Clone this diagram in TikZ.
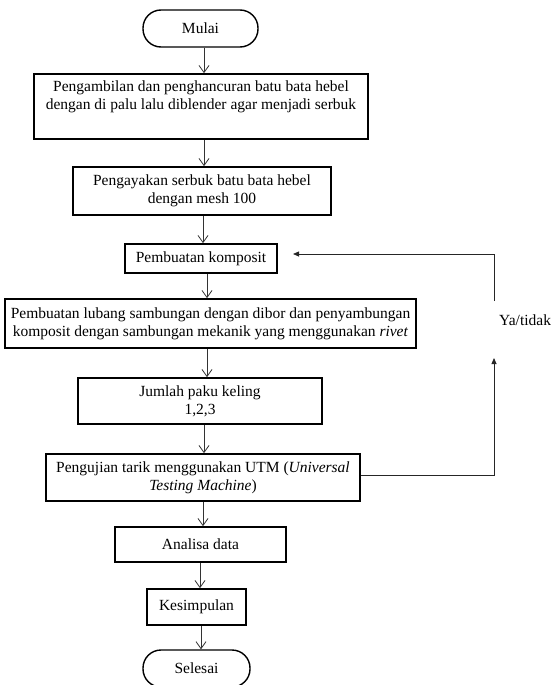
\documentclass[tikz,border=0pt]{standalone}
\usepackage{fontspec}
\setmainfont{Liberation Serif}
\usetikzlibrary{arrows.meta}
\begin{document}
\begin{tikzpicture}[x=1pt,y=-1pt,
  every node/.style={font=\fontsize{15.5}{18}\selectfont, inner sep=0pt, align=center},
  box/.style={draw, line width=1.7pt, rectangle},
  pill/.style={draw, line width=1.4pt, rectangle, rounded corners=18pt},
  arr/.style={draw=black!80, line width=0.8pt, -{Straight Barb[length=7pt,width=10pt]}},
  arrS/.style={draw=black!85, line width=0.8pt, -{Triangle[length=6pt,width=5pt]}},
  lin/.style={draw=black!85, line width=0.8pt}]
\useasboundingbox (0,0) rectangle (553,685);
\node[pill, minimum width=115pt, minimum height=37pt] (mulai) at (200.5,28.5) {Mulai};
\node[box, minimum width=334pt, minimum height=65pt] (b1) at (201,106.5)
  {Pengambilan dan penghancuran batu bata hebel\\dengan di palu lalu diblender agar menjadi serbuk\\[0pt]\strut};
\node[box, minimum width=258pt, minimum height=48pt] (b2) at (202,191)
  {Pengayakan serbuk batu bata hebel\\dengan mesh 100};
\node[box, minimum width=152pt, minimum height=29pt] (b3) at (201,258.5) {Pembuatan komposit};
\node[box, minimum width=411pt, minimum height=49pt] (b4) at (210.5,323.5)
  {Pembuatan lubang sambungan dengan dibor dan penyambungan\\komposit dengan sambungan mekanik yang menggunakan \textit{rivet}};
\node[box, minimum width=244pt, minimum height=46pt] (b5) at (200,401) {Jumlah paku keling\\1,2,3};
\node[box, minimum width=314pt, minimum height=47pt] (b6) at (203,477.5)
  {Pengujian tarik menggunakan UTM (\textit{Universal}\\\textit{Testing Machine})};
\node[box, minimum width=171pt, minimum height=35pt] (b7) at (200.5,544.5) {Analisa data};
\node[box, minimum width=99pt, minimum height=36pt] (b8) at (196.5,607) {Kesimpulan};
\node[pill, minimum width=107pt, minimum height=37pt] (selesai) at (196.5,668.5) {Selesai};
\node[anchor=west] (ya) at (499,320) {Ya/tidak};

\draw[arr] (mulai.south -| 204,0) -- (b1.north -| 204,0);
\draw[arr] (b1.south -| 204,0) -- (b2.north -| 204,0);
\draw[arr] (b2.south -| 203,0) -- (b3.north -| 203,0);
\draw[arr] (b3.south -| 207,0) -- (b4.north -| 207,0);
\draw[arr] (b4.south -| 207,0) -- (b5.north -| 207,0);
\draw[arr] (b5.south -| 204,0) -- (b6.north -| 204,0);
\draw[arr] (b6.south -| 203,0) -- (b7.north -| 203,0);
\draw[arr] (b7.south -| 200,0) -- (b8.north -| 200,0);
\draw[arr] (b8.south -| 201,0) -- (selesai.north -| 201,0);

\coordinate (fbA) at (494,358);
\coordinate (fbB) at (494,301);
\coordinate (fbC) at (293,254);
\draw[arrS] (b6.east |- 0,475) -| (fbA);
\draw[arrS] (fbB) |- (fbC);
\end{tikzpicture}
\end{document}
